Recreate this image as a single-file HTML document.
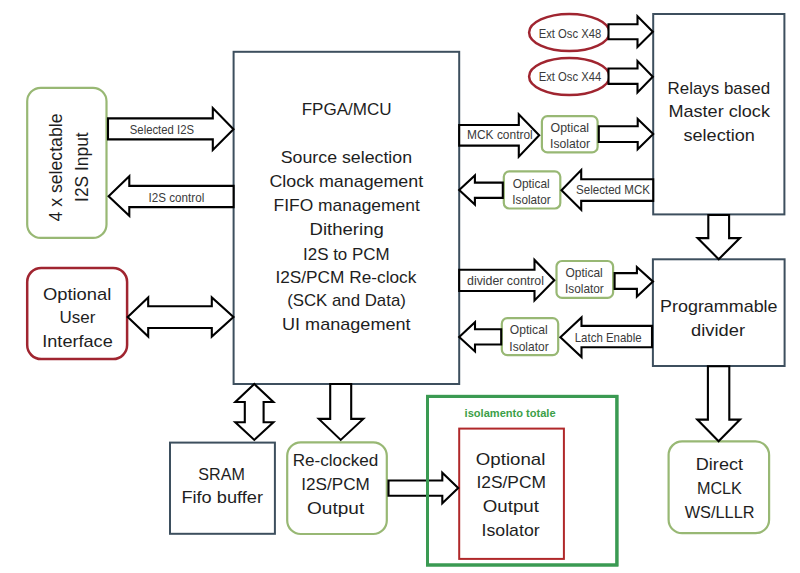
<!DOCTYPE html>
<html><head><meta charset="utf-8"><style>
html,body{margin:0;padding:0;background:#fff;}
svg{display:block;font-family:"Liberation Sans",sans-serif;}
</style></head><body>
<svg width="800" height="573" viewBox="0 0 800 573">
<rect x="0" y="0" width="800" height="573" fill="#fff"/>
<rect x="233.6" y="51.8" width="225.6" height="332.2" rx="0" fill="#fff" stroke="#3d4f5e" stroke-width="2"/>
<rect x="653.2" y="14.0" width="131.2" height="200.4" rx="0" fill="#fff" stroke="#3d4f5e" stroke-width="2"/>
<rect x="652.9" y="259.3" width="131.7" height="106.7" rx="0" fill="#fff" stroke="#3d4f5e" stroke-width="2"/>
<rect x="170.0" y="442.6" width="104.9" height="91.2" rx="0" fill="#fff" stroke="#3d4f5e" stroke-width="2"/>
<rect x="27.2" y="87.8" width="79.3" height="150.1" rx="13.5" fill="#fff" stroke="#98b874" stroke-width="2.2"/>
<rect x="27.2" y="267.9" width="99.9" height="91.2" rx="14" fill="#fff" stroke="#a02530" stroke-width="2.5"/>
<rect x="287.2" y="442.3" width="99.6" height="91.7" rx="13.5" fill="#fff" stroke="#98b874" stroke-width="2.2"/>
<rect x="668.6" y="441.4" width="100.5" height="91.8" rx="13.5" fill="#fff" stroke="#98b874" stroke-width="2.2"/>
<rect x="427.5" y="396.4" width="189.4" height="168.6" rx="0" fill="#fff" stroke="#3a9a52" stroke-width="3"/>
<rect x="459.2" y="428.6" width="104.7" height="130.3" rx="0" fill="#fff" stroke="#b0282a" stroke-width="2"/>
<rect x="541.9" y="116.1" width="55.7" height="36.3" rx="5.5" fill="#fff" stroke="#98b874" stroke-width="2.2"/>
<rect x="503.8" y="171.3" width="56.5" height="37.2" rx="5.5" fill="#fff" stroke="#98b874" stroke-width="2.2"/>
<rect x="556.5" y="261.0" width="56.6" height="36.9" rx="5.5" fill="#fff" stroke="#98b874" stroke-width="2.2"/>
<rect x="501.8" y="318.2" width="56.4" height="36.9" rx="5.5" fill="#fff" stroke="#98b874" stroke-width="2.2"/>
<ellipse cx="569.3" cy="32.5" rx="40.2" ry="18.6" fill="#fff" stroke="#a02530" stroke-width="2.5"/>
<ellipse cx="569.3" cy="76.5" rx="40.2" ry="18.5" fill="#fff" stroke="#a02530" stroke-width="2.5"/>
<polygon points="108.0,118.4 212.8,118.4 212.8,108.1 233.5,129.3 212.8,149.9 212.8,139.4 108.0,139.4" fill="#fff" stroke="#000" stroke-width="2.1" stroke-linejoin="miter"/>
<polygon points="108.6,196.2 129.3,176.2 129.3,185.9 233.6,185.9 233.6,207.1 129.3,207.1 129.3,215.7" fill="#fff" stroke="#000" stroke-width="2.1" stroke-linejoin="miter"/>
<polygon points="127.7,317.0 148.2,297.4 148.2,306.3 211.8,306.3 211.8,297.4 233.5,317.0 211.8,336.6 211.8,328.0 148.2,328.0 148.2,336.6" fill="#fff" stroke="#000" stroke-width="2.1" stroke-linejoin="miter"/>
<polygon points="608.5,24.3 637.5,24.3 637.5,16.2 652.8,31.8 637.5,47.0 637.5,39.3 608.5,39.3" fill="#fff" stroke="#000" stroke-width="2.1" stroke-linejoin="miter"/>
<polygon points="608.5,68.5 637.5,68.5 637.5,61.1 652.8,76.7 637.5,92.4 637.5,83.9 608.5,83.9" fill="#fff" stroke="#000" stroke-width="2.1" stroke-linejoin="miter"/>
<polygon points="459.2,125.0 518.8,125.0 518.8,114.3 539.2,135.2 518.8,156.7 518.8,145.6 459.2,145.6" fill="#fff" stroke="#000" stroke-width="2.1" stroke-linejoin="miter"/>
<polygon points="598.8,126.2 637.7,126.2 637.7,119.0 653.2,134.0 637.7,149.2 637.7,142.0 598.8,142.0" fill="#fff" stroke="#000" stroke-width="2.1" stroke-linejoin="miter"/>
<polygon points="561.5,190.3 581.2,170.0 581.2,179.2 653.2,179.2 653.2,200.9 581.2,200.9 581.2,209.7" fill="#fff" stroke="#000" stroke-width="2.1" stroke-linejoin="miter"/>
<polygon points="459.2,190.0 474.9,175.4 474.9,182.6 502.8,182.6 502.8,197.9 474.9,197.9 474.9,204.6" fill="#fff" stroke="#000" stroke-width="2.1" stroke-linejoin="miter"/>
<polygon points="459.2,269.7 534.5,269.7 534.5,259.9 554.3,280.2 534.5,300.5 534.5,291.0 459.2,291.0" fill="#fff" stroke="#000" stroke-width="2.1" stroke-linejoin="miter"/>
<polygon points="614.6,273.1 636.9,273.1 636.9,267.0 653.0,281.6 636.9,296.6 636.9,288.9 614.6,288.9" fill="#fff" stroke="#000" stroke-width="2.1" stroke-linejoin="miter"/>
<polygon points="560.4,337.2 581.5,317.4 581.5,325.9 652.0,325.9 652.0,347.2 581.5,347.2 581.5,357.0" fill="#fff" stroke="#000" stroke-width="2.1" stroke-linejoin="miter"/>
<polygon points="459.2,336.9 475.0,322.2 475.0,329.2 501.2,329.2 501.2,344.5 475.0,344.5 475.0,351.4" fill="#fff" stroke="#000" stroke-width="2.1" stroke-linejoin="miter"/>
<polygon points="708.3,215.0 729.1,215.0 729.1,238.1 739.9,238.1 718.7,259.2 697.6,238.1 708.3,238.1" fill="#fff" stroke="#000" stroke-width="2.1" stroke-linejoin="miter"/>
<polygon points="707.9,366.2 729.3,366.2 729.3,419.6 740.0,419.6 718.6,441.2 697.3,419.6 707.9,419.6" fill="#fff" stroke="#000" stroke-width="2.1" stroke-linejoin="miter"/>
<polygon points="330.2,384.0 351.2,384.0 351.2,418.9 363.3,418.9 340.7,439.9 318.8,418.9 330.2,418.9" fill="#fff" stroke="#000" stroke-width="2.1" stroke-linejoin="miter"/>
<polygon points="254.3,384.0 273.4,402.0 263.6,402.0 263.6,422.3 273.4,422.3 254.3,439.9 235.3,422.3 244.8,422.3 244.8,402.0 235.3,402.0" fill="#fff" stroke="#000" stroke-width="2.1" stroke-linejoin="miter"/>
<polygon points="388.5,480.5 442.3,480.5 442.3,472.7 458.2,488.0 442.3,503.2 442.3,495.8 388.5,495.8" fill="#fff" stroke="#000" stroke-width="2.1" stroke-linejoin="miter"/>
<rect x="427.5" y="396.4" width="189.4" height="168.6" fill="none" stroke="#3a9a52" stroke-width="3"/>
<text x="346.7" y="115.4" font-size="17" fill="#1e1e1e" font-weight="normal" text-anchor="middle" textLength="90.0" lengthAdjust="spacingAndGlyphs" >FPGA/MCU</text>
<text x="346.4" y="162.7" font-size="17" fill="#1e1e1e" font-weight="normal" text-anchor="middle" textLength="131.3" lengthAdjust="spacingAndGlyphs" >Source selection</text>
<text x="346.3" y="187.0" font-size="17" fill="#1e1e1e" font-weight="normal" text-anchor="middle" textLength="153.8" lengthAdjust="spacingAndGlyphs" >Clock management</text>
<text x="346.7" y="210.7" font-size="17" fill="#1e1e1e" font-weight="normal" text-anchor="middle" textLength="146.2" lengthAdjust="spacingAndGlyphs" >FIFO management</text>
<text x="346.7" y="235.3" font-size="17" fill="#1e1e1e" font-weight="normal" text-anchor="middle" textLength="74.2" lengthAdjust="spacingAndGlyphs" >Dithering</text>
<text x="346.3" y="259.6" font-size="17" fill="#1e1e1e" font-weight="normal" text-anchor="middle" textLength="86.6" lengthAdjust="spacingAndGlyphs" >I2S to PCM</text>
<text x="345.9" y="282.9" font-size="17" fill="#1e1e1e" font-weight="normal" text-anchor="middle" textLength="141.0" lengthAdjust="spacingAndGlyphs" >I2S/PCM Re-clock</text>
<text x="346.5" y="305.7" font-size="17" fill="#1e1e1e" font-weight="normal" text-anchor="middle" textLength="118.7" lengthAdjust="spacingAndGlyphs" >(SCK and Data)</text>
<text x="346.3" y="330.0" font-size="17" fill="#1e1e1e" font-weight="normal" text-anchor="middle" textLength="128.6" lengthAdjust="spacingAndGlyphs" >UI management</text>
<text x="718.8" y="94.0" font-size="17" fill="#1e1e1e" font-weight="normal" text-anchor="middle" textLength="102.5" lengthAdjust="spacingAndGlyphs" >Relays based</text>
<text x="719.2" y="116.9" font-size="17" fill="#1e1e1e" font-weight="normal" text-anchor="middle" textLength="101.5" lengthAdjust="spacingAndGlyphs" >Master clock</text>
<text x="719.2" y="141.0" font-size="17" fill="#1e1e1e" font-weight="normal" text-anchor="middle" textLength="71.5" lengthAdjust="spacingAndGlyphs" >selection</text>
<text x="718.8" y="312.0" font-size="17" fill="#1e1e1e" font-weight="normal" text-anchor="middle" textLength="117.5" lengthAdjust="spacingAndGlyphs" >Programmable</text>
<text x="718.0" y="335.9" font-size="17" fill="#1e1e1e" font-weight="normal" text-anchor="middle" textLength="54.0" lengthAdjust="spacingAndGlyphs" >divider</text>
<text x="719.4" y="470.4" font-size="17" fill="#1e1e1e" font-weight="normal" text-anchor="middle" textLength="47.2" lengthAdjust="spacingAndGlyphs" >Direct</text>
<text x="719.4" y="493.8" font-size="17" fill="#1e1e1e" font-weight="normal" text-anchor="middle" textLength="45.0" lengthAdjust="spacingAndGlyphs" >MCLK</text>
<text x="719.6" y="517.5" font-size="17" fill="#1e1e1e" font-weight="normal" text-anchor="middle" textLength="69.8" lengthAdjust="spacingAndGlyphs" >WS/LLLR</text>
<text x="335.5" y="465.8" font-size="17" fill="#1e1e1e" font-weight="normal" text-anchor="middle" textLength="85.7" lengthAdjust="spacingAndGlyphs" >Re-clocked</text>
<text x="335.6" y="490.0" font-size="17" fill="#1e1e1e" font-weight="normal" text-anchor="middle" textLength="68.5" lengthAdjust="spacingAndGlyphs" >I2S/PCM</text>
<text x="335.6" y="513.6" font-size="17" fill="#1e1e1e" font-weight="normal" text-anchor="middle" textLength="57.2" lengthAdjust="spacingAndGlyphs" >Output</text>
<text x="221.6" y="479.9" font-size="17" fill="#1e1e1e" font-weight="normal" text-anchor="middle" textLength="46.5" lengthAdjust="spacingAndGlyphs" >SRAM</text>
<text x="222.2" y="503.0" font-size="17" fill="#1e1e1e" font-weight="normal" text-anchor="middle" textLength="81.6" lengthAdjust="spacingAndGlyphs" >Fifo buffer</text>
<text x="510.6" y="464.8" font-size="17" fill="#1e1e1e" font-weight="normal" text-anchor="middle" textLength="69.6" lengthAdjust="spacingAndGlyphs" >Optional</text>
<text x="511.2" y="488.1" font-size="17" fill="#1e1e1e" font-weight="normal" text-anchor="middle" textLength="69.6" lengthAdjust="spacingAndGlyphs" >I2S/PCM</text>
<text x="510.9" y="512.2" font-size="17" fill="#1e1e1e" font-weight="normal" text-anchor="middle" textLength="56.2" lengthAdjust="spacingAndGlyphs" >Output</text>
<text x="510.6" y="536.2" font-size="17" fill="#1e1e1e" font-weight="normal" text-anchor="middle" textLength="58.1" lengthAdjust="spacingAndGlyphs" >Isolator</text>
<text x="77.1" y="299.6" font-size="17" fill="#1e1e1e" font-weight="normal" text-anchor="middle" textLength="68.4" lengthAdjust="spacingAndGlyphs" >Optional</text>
<text x="77.5" y="322.6" font-size="17" fill="#1e1e1e" font-weight="normal" text-anchor="middle" textLength="35.9" lengthAdjust="spacingAndGlyphs" >User</text>
<text x="77.5" y="346.7" font-size="17" fill="#1e1e1e" font-weight="normal" text-anchor="middle" textLength="70.5" lengthAdjust="spacingAndGlyphs" >Interface</text>
<text x="161.9" y="133.5" font-size="12.6" fill="#3a3a3a" font-weight="normal" text-anchor="middle" textLength="64.2" lengthAdjust="spacingAndGlyphs" >Selected I2S</text>
<text x="176.4" y="201.7" font-size="12.6" fill="#3a3a3a" font-weight="normal" text-anchor="middle" textLength="55.7" lengthAdjust="spacingAndGlyphs" >I2S control</text>
<text x="499.9" y="138.8" font-size="12.6" fill="#3a3a3a" font-weight="normal" text-anchor="middle" textLength="65.7" lengthAdjust="spacingAndGlyphs" >MCK control</text>
<text x="613.0" y="194.2" font-size="12.6" fill="#3a3a3a" font-weight="normal" text-anchor="middle" textLength="74.0" lengthAdjust="spacingAndGlyphs" >Selected MCK</text>
<text x="505.5" y="284.6" font-size="12.6" fill="#3a3a3a" font-weight="normal" text-anchor="middle" textLength="77.0" lengthAdjust="spacingAndGlyphs" >divider control</text>
<text x="608.2" y="341.5" font-size="12.6" fill="#3a3a3a" font-weight="normal" text-anchor="middle" textLength="66.9" lengthAdjust="spacingAndGlyphs" >Latch Enable</text>
<text x="570.0" y="37.5" font-size="12.6" fill="#3a3a3a" font-weight="normal" text-anchor="middle" textLength="62.5" lengthAdjust="spacingAndGlyphs" >Ext Osc X48</text>
<text x="570.0" y="81.2" font-size="12.6" fill="#3a3a3a" font-weight="normal" text-anchor="middle" textLength="62.5" lengthAdjust="spacingAndGlyphs" >Ext Osc X44</text>
<text x="569.8" y="131.5" font-size="12.6" fill="#3a3a3a" font-weight="normal" text-anchor="middle" textLength="38.5" lengthAdjust="spacingAndGlyphs" >Optical</text>
<text x="570.0" y="147.6" font-size="12.6" fill="#3a3a3a" font-weight="normal" text-anchor="middle" textLength="40.0" lengthAdjust="spacingAndGlyphs" >Isolator</text>
<text x="531.2" y="187.7" font-size="12.6" fill="#3a3a3a" font-weight="normal" text-anchor="middle" textLength="37.0" lengthAdjust="spacingAndGlyphs" >Optical</text>
<text x="531.5" y="203.6" font-size="12.6" fill="#3a3a3a" font-weight="normal" text-anchor="middle" textLength="38.5" lengthAdjust="spacingAndGlyphs" >Isolator</text>
<text x="584.1" y="277.0" font-size="12.6" fill="#3a3a3a" font-weight="normal" text-anchor="middle" textLength="37.3" lengthAdjust="spacingAndGlyphs" >Optical</text>
<text x="584.4" y="292.7" font-size="12.6" fill="#3a3a3a" font-weight="normal" text-anchor="middle" textLength="38.8" lengthAdjust="spacingAndGlyphs" >Isolator</text>
<text x="528.7" y="334.4" font-size="12.6" fill="#3a3a3a" font-weight="normal" text-anchor="middle" textLength="37.8" lengthAdjust="spacingAndGlyphs" >Optical</text>
<text x="529.0" y="350.5" font-size="12.6" fill="#3a3a3a" font-weight="normal" text-anchor="middle" textLength="39.3" lengthAdjust="spacingAndGlyphs" >Isolator</text>
<text x="510.1" y="416.6" font-size="10" fill="#3c9f48" font-weight="bold" text-anchor="middle" textLength="91.0" lengthAdjust="spacingAndGlyphs" >isolamento totale</text>
<text transform="translate(61.5,167.5) rotate(-90)" x="0" y="0" font-size="18" fill="#1e1e1e" text-anchor="middle" textLength="108" lengthAdjust="spacingAndGlyphs">4 x selectable</text>
<text transform="translate(87.8,167.1) rotate(-90)" x="0" y="0" font-size="18" fill="#1e1e1e" text-anchor="middle" textLength="69.6" lengthAdjust="spacingAndGlyphs">I2S Input</text>
</svg></body></html>
